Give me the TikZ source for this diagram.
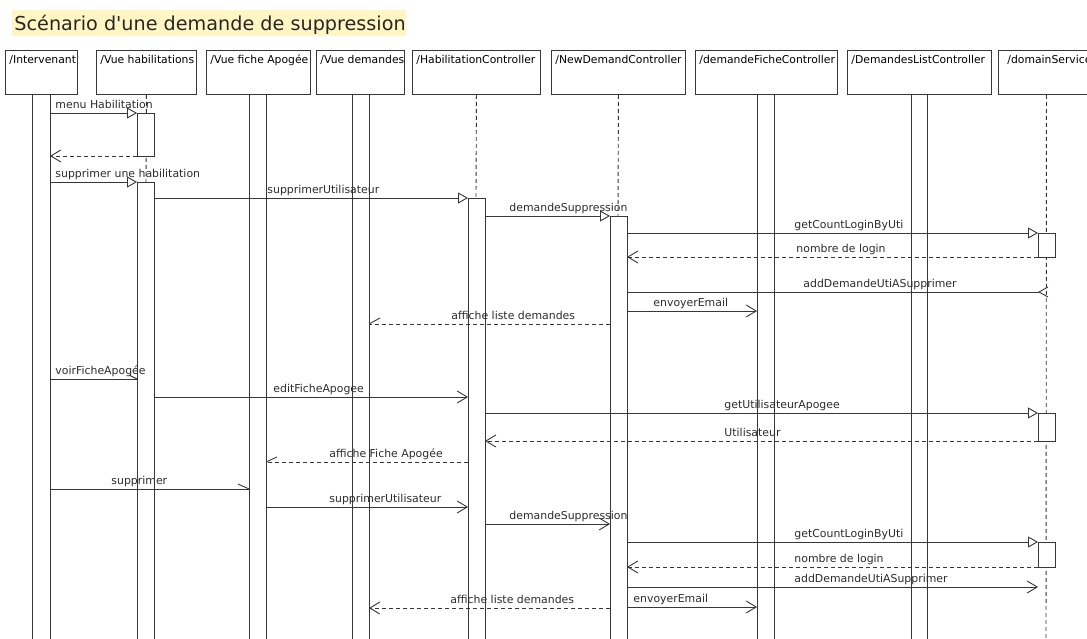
\documentclass[tikz,border=0pt]{standalone}
\usepackage{fontspec}
\setmainfont{DejaVu Sans}
\usetikzlibrary{arrows.meta}
\definecolor{hl}{RGB}{255,246,196}
\definecolor{ln}{RGB}{55,55,55}
\definecolor{tx}{RGB}{45,45,45}
\newcommand\seqmsg[7]{%
  \coordinate (#7s) at (#2,#4);
  \coordinate (#7e) at (#3,#4);
  \draw[#1] (#7s) -- (#7e);
  \node[lbl] (#7l) at (#5,#4-4.5) {#6};}
\begin{document}
\begin{tikzpicture}[x=1pt,y=-1pt,
  line width=0.9pt,
  hdr/.style={draw=ln, line width=0.9pt, fill=white, anchor=north west, minimum height=44pt, inner sep=0pt},
  htxt/.style={anchor=base west, inner sep=0pt, text=black, font=\fontsize{10.8}{12}\selectfont},
  lbl/.style={anchor=base west, inner sep=0pt, text=tx, font=\fontsize{10.9}{12}\selectfont},
  act/.style={draw=ln, fill=white, line width=0.9pt},
  life/.style={draw=ln, dash pattern=on 4pt off 3pt, line width=0.9pt},
  call/.style={draw=ln, -{Triangle[open, length=10pt, width=11pt, fill=white]}},
  async/.style={draw=ln, -{Straight Barb[length=10pt, width=12pt]}},
  ret/.style={draw=ln, dash pattern=on 4pt off 3pt, -{Straight Barb[length=10pt, width=12pt]}},
  retu/.style={draw=ln, dash pattern=on 4pt off 3pt},
  plain/.style={draw=ln}]
\useasboundingbox (0,0) rectangle (1087,639);
\clip (0,0) rectangle (1087,639);
\fill[white] (0,0) rectangle (1087,639);
% title
\node[fill=hl, anchor=north west, minimum width=394pt, minimum height=26pt, inner sep=0pt] (titlebg) at (12,10) {};
\node[anchor=base west, inner sep=0pt, text=black!85, font=\fontsize{19.2}{22}\selectfont] (title) at (14,31) {Scénario d\textquotesingle une demande de suppression};
% header boxes
\node[hdr, minimum width=72pt] (h1) at (5,50) {};
\node[hdr, minimum width=100pt] (h2) at (96,50) {};
\node[hdr, minimum width=104pt] (h3) at (206,50) {};
\node[hdr, minimum width=88pt] (h4) at (316,50) {};
\node[hdr, minimum width=128pt] (h5) at (412,50) {};
\node[hdr, minimum width=134pt] (h6) at (551,50) {};
\node[hdr, minimum width=142pt] (h7) at (695,50) {};
\node[hdr, minimum width=144pt] (h8) at (847,50) {};
\node[hdr, minimum width=97pt] (h9) at (998,50) {};
\node[htxt] (t1) at ([shift={(4,13.5)}]h1.north west) {/Intervenant};
\node[htxt] (t2) at ([shift={(4,13.5)}]h2.north west) {/Vue habilitations};
\node[htxt] (t3) at ([shift={(4,13.5)}]h3.north west) {/Vue fiche Apogée};
\node[htxt] (t4) at ([shift={(4,13.5)}]h4.north west) {/Vue demandes};
\node[htxt] (t5) at ([shift={(4,13.5)}]h5.north west) {/HabilitationController};
\node[htxt] (t6) at ([shift={(4,13.5)}]h6.north west) {/NewDemandController};
\node[htxt] (t7) at ([shift={(4,13.5)}]h7.north west) {/demandeFicheController};
\node[htxt] (t8) at ([shift={(4,13.5)}]h8.north west) {/DemandesListController};
\node[htxt] (t9) at ([shift={(9,13.5)}]h9.north west) {/domainService};
% dashed lifelines
\coordinate (l2b) at (146,182);
\coordinate (l5b) at (476,198);
\coordinate (l6b) at (618,216);
\coordinate (l9b) at (1046,650);
\draw[life] (h2.south) -- (l2b);
\draw[life] (h5.south) -- (l5b);
\draw[life] (h6.south) -- (l6b);
\draw[life] ([xshift=-0.5pt]h9.south) -- (l9b);
% activation bars
\draw[act] (32,94) rectangle (50,650);
\draw[act] (137,113) rectangle (154,156);
\draw[act] (137,182) rectangle (154,650);
\draw[act] (249,94) rectangle (266,650);
\draw[act] (352,94) rectangle (369,650);
\draw[act] (468,198) rectangle (485,650);
\draw[act] (610,216) rectangle (627,650);
\draw[act] (757,94) rectangle (774,650);
\draw[act] (911,94) rectangle (927,650);
\draw[act] (1038,233) rectangle (1055,257);
\draw[act] (1038,413) rectangle (1055,441);
\draw[act] (1038,542) rectangle (1055,567);
% messages
\seqmsg{call}{50}{137}{113}{55}{menu Habilitation}{m1}
\coordinate (m2s) at (137,156); \coordinate (m2e) at (50,156);
\draw[ret] (m2s) -- (m2e);
\seqmsg{call}{50}{137}{182}{55}{supprimer une habilitation}{m3}
\seqmsg{call}{154}{468}{198}{267}{supprimerUtilisateur}{m4}
\seqmsg{call}{485}{610}{216}{509}{demandeSuppression}{m5}
\seqmsg{call}{627}{1038}{233}{794}{getCountLoginByUti}{m6}
\seqmsg{ret}{1038}{627}{257}{796}{nombre de login}{m7}
\seqmsg{plain}{627}{1039}{292}{803}{addDemandeUtiASupprimer}{m8}
\draw[plain] ([shift={(9,-5)}]m8e) -- (m8e) -- ([shift={(9,5)}]m8e);
\seqmsg{async}{627}{757}{311}{653}{envoyerEmail}{m9}
\seqmsg{retu}{610}{369}{324}{451}{affiche liste demandes}{m10}
\draw[plain] ([shift={(11,-6)}]m10e) -- (m10e);
\seqmsg{plain}{50}{137}{379}{55}{voirFicheApogée}{m11}
\draw[plain] ([shift={(-8,-4)}]m11e) -- (m11e);
\seqmsg{async}{154}{468}{397}{273}{editFicheApogee}{m12}
\seqmsg{call}{485}{1038}{413}{724}{getUtilisateurApogee}{m13}
\seqmsg{ret}{1038}{485}{441}{724}{Utilisateur}{m14}
\seqmsg{retu}{468}{266}{462}{329}{affiche Fiche Apogée}{m15}
\draw[plain] ([shift={(11,-5)}]m15e) -- (m15e);
\seqmsg{plain}{50}{249}{489}{111}{supprimer}{m16}
\draw[plain] ([shift={(-11,-5)}]m16e) -- (m16e);
\seqmsg{async}{266}{468}{507}{329}{supprimerUtilisateur}{m17}
\seqmsg{async}{485}{610}{524}{509}{demandeSuppression}{m18}
\seqmsg{call}{627}{1038}{542}{794}{getCountLoginByUti}{m19}
\seqmsg{ret}{1038}{627}{567}{794}{nombre de login}{m20}
\seqmsg{async}{627}{1038}{587}{794}{addDemandeUtiASupprimer}{m21}
\seqmsg{async}{627}{757}{607}{633}{envoyerEmail}{m22}
\seqmsg{ret}{610}{369}{608}{450}{affiche liste demandes}{m23}
\end{tikzpicture}
\end{document}
